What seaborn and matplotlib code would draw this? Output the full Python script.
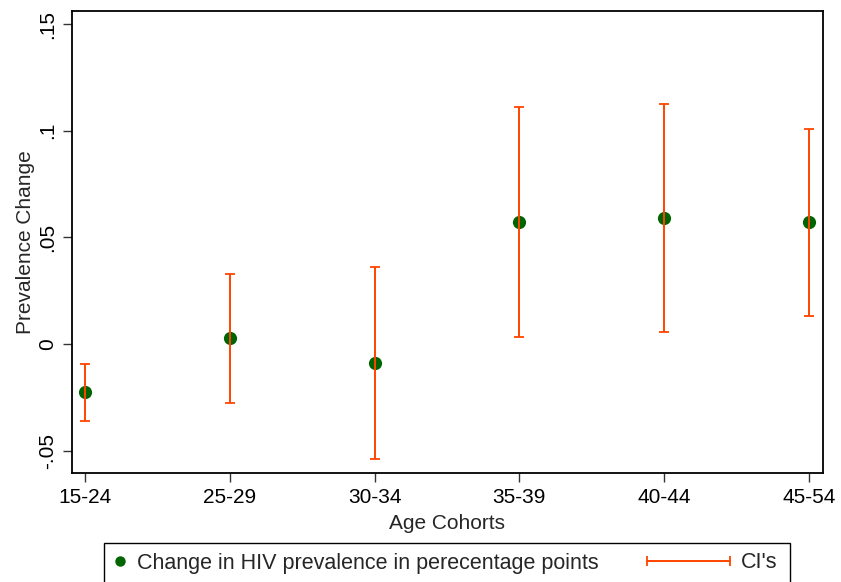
import numpy as np
import pandas as pd
import matplotlib
matplotlib.use("Agg")
import matplotlib.pyplot as plt
from matplotlib.lines import Line2D
from matplotlib.legend_handler import HandlerLine2D
import seaborn as sns

# ---- data ----
cohorts = ["15-24", "25-29", "30-34", "35-39", "40-44", "45-54"]
change = [-0.0227, 0.0027, -0.0091, 0.0572, 0.0592, 0.0571]
ci_low = [-0.0359, -0.0275, -0.0540, 0.0034, 0.0056, 0.0133]
ci_high = [-0.0094, 0.0328, 0.0361, 0.1112, 0.1126, 0.1008]
yticks = [-0.05, 0, 0.05, 0.1, 0.15]
ytick_labels = ["-.05", "0", ".05", ".1", ".15"]

df = pd.DataFrame({"cohort": cohorts, "pos": np.arange(len(cohorts)),
                   "change": change, "lo": ci_low, "hi": ci_high})

sns.set_style("white")
plt.rcParams["font.family"] = ["Liberation Sans", "DejaVu Sans"]

GREEN = "#006400"
ORANGE = "#FF4500"
W, H = 841, 582
fig = plt.figure(figsize=(W / 100, H / 100), dpi=100)
ax = fig.add_axes([71.7 / W, 1 - 473 / H, (822.7 - 71.7) / W, (473 - 11) / H])

sns.scatterplot(data=df, x="pos", y="change", color=GREEN, s=90,
                linewidth=0, ax=ax, zorder=2, legend=False)
ax.errorbar(df["pos"], df["change"],
            yerr=[df["change"] - df["lo"], df["hi"] - df["change"]],
            fmt="none", ecolor=ORANGE, elinewidth=1.4, capsize=3.8,
            capthick=1.3, zorder=3)

ax.set_xlim(-0.092, 5.095)
ax.set_ylim(-0.0605, 0.1561)
ax.set_xticks(df["pos"], cohorts)
ax.set_yticks(yticks, ytick_labels)
for s in ax.spines.values():
    s.set_visible(True)
    s.set_color("black")
    s.set_linewidth(1.3)
ax.tick_params(axis="both", which="major", length=6.5, width=1.0,
               color="#333333", labelsize=15, pad=4, labelcolor="black",
               bottom=True, left=True)
for lab in ax.get_yticklabels():
    lab.set_rotation(90)
    lab.set_va("center")
ax.set_xlabel("Age Cohorts", fontsize=15, labelpad=5.5)
ax.set_ylabel("Prevalence Change", fontsize=15, labelpad=2)
ax.grid(False)

# ---- legend ----
fs = 15.5
dot = Line2D([], [], marker="o", linestyle="none", color=GREEN,
             markersize=7.5, markeredgewidth=0)
ci = Line2D([0, 1], [0, 0], color=ORANGE, linewidth=1.4, marker="|",
            markersize=6.5, markeredgewidth=1.3)
top = 1 - 543 / H
leg1 = fig.legend([dot], ["Change in HIV prevalence in perecentage points"],
                  loc="upper left",
                  bbox_to_anchor=(104 / W, top - 0.2, (790 - 104) / W, 0.2),
                  mode="expand", frameon=True, fancybox=False,
                  edgecolor="black", fontsize=fs, handlelength=0.6,
                  handletextpad=0.5, borderpad=0.45, borderaxespad=0)
leg1.get_frame().set_linewidth(1.0)
leg1.get_frame().set_alpha(None)
fig.legend([ci], ["CI's"], loc="center left",
           bbox_to_anchor=(647 / W, 1 - 563 / H), frameon=False,
           fontsize=fs, handlelength=83 / 21.5, handletextpad=0.5,
           borderpad=0, borderaxespad=0,
           handler_map={ci: HandlerLine2D(numpoints=2, marker_pad=0)})

fig.savefig("out.png", dpi=100)
